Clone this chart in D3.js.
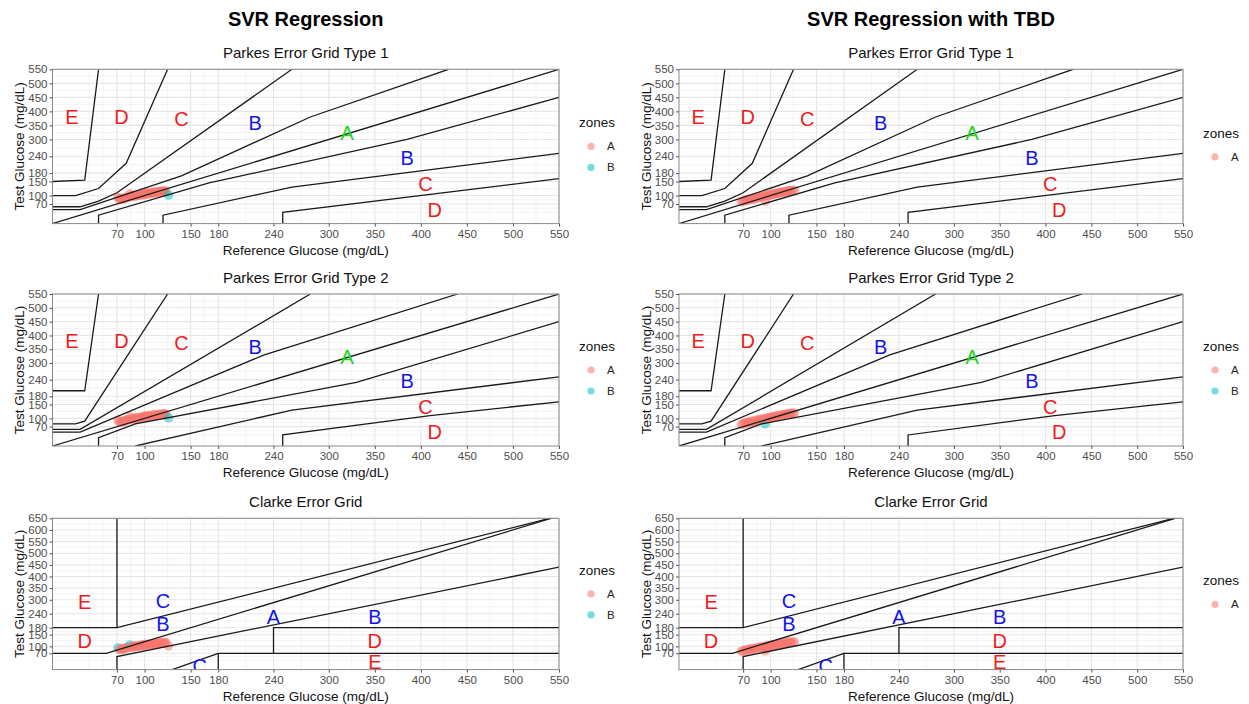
<!DOCTYPE html>
<html>
<head>
<meta charset="utf-8">
<script src="https://cdn.jsdelivr.net/npm/d3@7/dist/d3.min.js"></script>
<style>
  body { margin: 0; background: #fff; }
  text { font-family: "Liberation Sans", Arial, sans-serif; }
</style>
</head>
<body>
<script>
const W = 1249, H = 704;

// reference / test glucose pairs (left column)
const svrRef  = [71, 73, 74, 76, 77, 79, 80, 82, 84, 85, 86, 88, 89, 90, 92, 93, 95, 96, 98, 99,
                 100, 101, 102, 104, 105, 106, 108, 109, 110, 112, 113, 114, 116, 117, 118, 120, 121, 122, 123, 126];
const svrTest = [93, 86, 88, 90, 87, 93, 91, 95, 106, 96, 99, 97, 101, 99, 102, 100, 104, 101, 105, 103,
                 106, 109, 104, 108, 110, 106, 111, 108, 112, 110, 114, 111, 113, 116, 112, 115, 117, 113, 116, 102];

// right column (with TBD)
const tbdRef  = [68, 70, 72, 73, 75, 77, 78, 80, 82, 83, 85, 87, 88, 90, 91, 93, 94, 95, 97, 98,
                 100, 101, 103, 104, 106, 107, 109, 110, 112, 113, 115, 116, 118, 119, 121, 122, 124, 126];
const tbdTest = [78, 80, 84, 81, 86, 84, 89, 87, 91, 88, 94, 92, 96, 95, 98, 97, 80, 101, 99, 103,
                 102, 105, 104, 107, 106, 109, 108, 111, 110, 113, 112, 115, 114, 117, 116, 118, 117, 119];

const xTicks = [70, 100, 150, 180, 240, 300, 350, 400, 450, 500, 550];
const yTicksParkes = [70, 100, 150, 180, 240, 300, 350, 400, 450, 500, 550];
const yTicksClarke = [70, 100, 150, 180, 240, 300, 350, 400, 450, 500, 550, 600, 650];

// Parkes type 1 borders
const p1Identity = [[0, 0], [550, 550]];
const p1UpperAB = [[0, 50], [30, 50], [140, 170], [280, 380], [430, 550]];
const p1LowerAB = [[50, 0], [50, 30], [170, 145], [385, 300], [550, 450]];
const p1UpperBC = [[0, 60], [30, 60], [50, 80], [70, 110], [260, 550]];
const p1LowerBC = [[120, 0], [120, 30], [260, 130], [550, 250]];
const p1UpperCD = [[0, 100], [25, 100], [50, 125], [80, 215], [125, 550]];
const p1LowerCD = [[250, 0], [250, 40], [550, 160]];
const p1UpperDE = [[0, 150], [35, 155], [50, 550]];

// Parkes type 2 borders
const p2Identity = [[0, 0], [550, 550]];
const p2UpperAB = [[0, 50], [30, 50], [230, 330], [440, 550]];
const p2LowerAB = [[50, 0], [50, 30], [90, 80], [330, 230], [550, 450]];
const p2UpperBC = [[0, 60], [30, 60], [280, 550]];
const p2LowerBC = [[90, 0], [260, 130], [550, 250]];
const p2UpperCD = [[0, 80], [25, 80], [35, 90], [125, 550]];
const p2LowerCD = [[250, 0], [250, 40], [410, 110], [550, 160]];
const p2UpperDE = [[0, 200], [35, 200], [50, 550]];

// Clarke borders
const clarkeLines = [
  [[0, 180], [70, 180], [550, 660]],
  [[70, 180], [70, 650]],
  [[0, 70], [175 / 3, 70], [550, 660]],
  [[70, 0], [70, 56], [550, 440]],
  [[240, 70], [240, 180], [550, 180]],
  [[180, 0], [180, 70], [550, 70]],
  [[130, 0], [180, 70]]
];

const parkesLabels = ["A", "B", "B", "C", "C", "D", "D", "E"];
const parkesLabelX = [320, 220, 385, 140, 405, 415, 75, 21];
const parkesLabelY = [322, 360, 236, 372, 143, 50, 380, 380];

const clarkeLabels = ["E", "C", "B", "D", "A", "B", "D", "E", "C"];
const clarkeLabelX = [35, 120, 120, 35, 240, 350, 350, 350, 160];
const clarkeLabelY = [292, 296, 196, 124, 228, 228, 124, 34, 15];

const parkesColor = {A: "#22d422", B: "#1414e6", C: "#ee1c1c", D: "#ee1c1c", E: "#ee1c1c"};
const clarkeColor = {A: "#1414e6", B: "#1414e6", C: "#1414e6", D: "#ee1c1c", E: "#ee1c1c"};
const hue = ["#F8766D", "#00BFC4"];

function interp(pts, x, lower) {
  if (x < pts[0][0]) return lower ? -Infinity : pts[0][1];
  for (let i = 0; i < pts.length - 1; i++) {
    const a = pts[i], b = pts[i + 1];
    if (x >= a[0] && x <= b[0] && b[0] > a[0]) return a[1] + (x - a[0]) * (b[1] - a[1]) / (b[0] - a[0]);
  }
  return lower ? pts[pts.length - 1][1] : Infinity;
}

function parkesZone(g, r, t) {
  if (t <= interp(g.uAB, r, false) && t >= interp(g.lAB, r, true)) return "A";
  if (t <= interp(g.uBC, r, false) && t >= interp(g.lBC, r, true)) return "B";
  if (t <= interp(g.uCD, r, false) && t >= interp(g.lCD, r, true)) return "C";
  if (t <= interp(g.uDE, r, false)) return "D";
  return "E";
}

function clarkeZone(r, t) {
  if ((t <= 70 && r <= 70) || (t <= 1.2 * r && t >= 0.8 * r)) return "A";
  if ((r >= 180 && t <= 70) || (r <= 70 && t >= 180)) return "E";
  if ((r >= 70 && r <= 290 && t >= r + 110) || (r >= 130 && r <= 180 && t <= 1.4 * r - 182)) return "C";
  if ((r >= 240 && t >= 70 && t <= 180) || (r <= 175 / 3 && t <= 180 && t >= 70) ||
      (r >= 175 / 3 && r <= 70 && t >= 1.2 * r)) return "D";
  return "B";
}

const grid1 = {lines: [p1Identity, p1UpperAB, p1LowerAB, p1UpperBC, p1LowerBC, p1UpperCD, p1LowerCD, p1UpperDE],
  uAB: p1UpperAB, lAB: p1LowerAB, uBC: p1UpperBC, lBC: p1LowerBC, uCD: p1UpperCD, lCD: p1LowerCD, uDE: p1UpperDE};
const grid2 = {lines: [p2Identity, p2UpperAB, p2LowerAB, p2UpperBC, p2LowerBC, p2UpperCD, p2LowerCD, p2UpperDE],
  uAB: p2UpperAB, lAB: p2LowerAB, uBC: p2UpperBC, lBC: p2LowerBC, uCD: p2UpperCD, lCD: p2LowerCD, uDE: p2UpperDE};

function minorBreaks(b, max) {
  const ext = [b[0] - (b[1] - b[0])].concat(b);
  const out = [];
  for (let i = 0; i < ext.length - 1; i++) out.push(ext[i], (ext[i] + ext[i + 1]) / 2);
  return out.filter(v => v >= 0 && v <= max && !b.includes(v));
}

const svg = d3.select("body").append("svg")
  .attr("width", W).attr("height", H)
  .style("display", "block");

const cols = [
  {left: 52.5, right: 559, legX: 579, ref: svrRef, test: svrTest, title: "SVR Regression"},
  {left: 679, right: 1183, legX: 1203, ref: tbdRef, test: tbdTest, title: "SVR Regression with TBD"}
];
const rows = [
  {top: 69.3, bottom: 223.6, ymax: 550, kind: "p1", title: "Parkes Error Grid Type 1"},
  {top: 294, bottom: 446, ymax: 550, kind: "p2", title: "Parkes Error Grid Type 2"},
  {top: 518.3, bottom: 669.6, ymax: 650, kind: "clarke", title: "Clarke Error Grid"}
];

let clipId = 0;

function drawPanel(col, row) {
  const x = d3.scaleLinear().domain([0, 550]).range([col.left, col.right]);
  const y = d3.scaleLinear().domain([0, row.ymax]).range([row.bottom, row.top]);
  const yTicks = row.kind === "clarke" ? yTicksClarke : yTicksParkes;
  const g = svg.append("g");
  const midX = (col.left + col.right) / 2, midY = (row.top + row.bottom) / 2;

  g.append("text").attr("x", midX).attr("y", row.top - 11)
    .attr("text-anchor", "middle").style("font-size", "15px").attr("fill", "#111")
    .text(row.title);

  // grid
  g.selectAll(".vminor").data(minorBreaks(xTicks, 550)).enter().append("line")
    .attr("x1", d => x(d)).attr("x2", d => x(d)).attr("y1", row.top).attr("y2", row.bottom)
    .attr("stroke", "#ececec").attr("stroke-width", 0.6);
  g.selectAll(".hminor").data(minorBreaks(yTicks, row.ymax)).enter().append("line")
    .attr("y1", d => y(d)).attr("y2", d => y(d)).attr("x1", col.left).attr("x2", col.right)
    .attr("stroke", "#ececec").attr("stroke-width", 0.6);
  g.selectAll(".vmajor").data(xTicks).enter().append("line")
    .attr("x1", d => x(d)).attr("x2", d => x(d)).attr("y1", row.top).attr("y2", row.bottom)
    .attr("stroke", "#e6e6e6").attr("stroke-width", 1.1);
  g.selectAll(".hmajor").data(yTicks).enter().append("line")
    .attr("y1", d => y(d)).attr("y2", d => y(d)).attr("x1", col.left).attr("x2", col.right)
    .attr("stroke", "#e6e6e6").attr("stroke-width", 1.1);

  const id = "clip" + (clipId++);
  svg.append("clipPath").attr("id", id).append("rect")
    .attr("x", col.left).attr("y", row.top)
    .attr("width", col.right - col.left).attr("height", row.bottom - row.top);
  const inner = g.append("g").attr("clip-path", "url(#" + id + ")");

  // points
  const pts = col.ref.map((r, i) => {
    let z;
    if (row.kind === "clarke") z = clarkeZone(r, col.test[i]);
    else z = parkesZone(row.kind === "p1" ? grid1 : grid2, r, col.test[i]);
    return {r: r, t: col.test[i], z: z};
  });
  const levels = ["A", "B", "C", "D", "E"].filter(z => pts.some(p => p.z === z));
  const color = d3.scaleOrdinal().domain(levels).range(levels.length === 1 ? [hue[0]] : hue);

  inner.selectAll("circle").data(pts).enter().append("circle")
    .attr("cx", d => x(d.r)).attr("cy", d => y(d.t)).attr("r", 4.8)
    .attr("fill", d => color(d.z)).attr("fill-opacity", 0.5);

  // zone borders
  const line = d3.line().x(d => x(d[0])).y(d => y(d[1]));
  const borders = row.kind === "clarke" ? clarkeLines : (row.kind === "p1" ? grid1.lines : grid2.lines);
  inner.selectAll("path.border").data(borders).enter().append("path")
    .attr("class", "border").attr("d", line)
    .attr("fill", "none").attr("stroke", "#1a1a1a").attr("stroke-width", 1.3);

  // zone letters
  const labs = row.kind === "clarke" ? clarkeLabels : parkesLabels;
  const lx = row.kind === "clarke" ? clarkeLabelX : parkesLabelX;
  const ly = row.kind === "clarke" ? clarkeLabelY : parkesLabelY;
  const lc = row.kind === "clarke" ? clarkeColor : parkesColor;
  inner.selectAll("text.zone").data(labs).enter().append("text")
    .attr("class", "zone")
    .attr("x", (d, i) => x(lx[i])).attr("y", (d, i) => y(ly[i]))
    .attr("dy", "0.36em").attr("text-anchor", "middle")
    .style("font-size", "20px").attr("fill", d => lc[d])
    .text(d => d);

  g.append("rect").attr("x", col.left).attr("y", row.top)
    .attr("width", col.right - col.left).attr("height", row.bottom - row.top)
    .attr("fill", "none").attr("stroke", "#8a8a8a").attr("stroke-width", 1);

  // axes
  const xAxis = g.append("g").attr("transform", "translate(0," + row.bottom + ")")
    .call(d3.axisBottom(x).tickValues(xTicks).tickSize(3).tickSizeOuter(0).tickPadding(3));
  const yAxis = g.append("g").attr("transform", "translate(" + col.left + ",0)")
    .call(d3.axisLeft(y).tickValues(yTicks).tickSize(3).tickSizeOuter(0).tickPadding(2));
  [xAxis, yAxis].forEach(a => {
    a.select(".domain").remove();
    a.selectAll("line").attr("stroke", "#555");
    a.selectAll("text").attr("fill", "#4d4d4d").style("font-size", "11.5px").style("font-family", "Liberation Sans, Arial, sans-serif");
  });

  g.append("text").attr("x", midX).attr("y", row.bottom + 31)
    .attr("text-anchor", "middle").style("font-size", "13.5px").attr("fill", "#111")
    .text("Reference Glucose (mg/dL)");
  g.append("text").attr("transform", "translate(" + (col.left - 33) + "," + midY + ") rotate(-90)")
    .attr("text-anchor", "middle").attr("dy", "0.35em").style("font-size", "13.5px").attr("fill", "#111")
    .text("Test Glucose (mg/dL)");

  // legend
  const first = midY - (levels.length - 1) * 21 / 2 + 10.5;
  g.append("text").attr("x", col.legX).attr("y", first - 24).attr("dy", "0.35em")
    .style("font-size", "13.5px").attr("fill", "#111").text("zones");
  levels.forEach((z, i) => {
    g.append("circle").attr("cx", col.legX + 12).attr("cy", first + i * 21).attr("r", 3.6)
      .attr("fill", color(z)).attr("fill-opacity", 0.55);
    g.append("text").attr("x", col.legX + 28).attr("y", first + i * 21).attr("dy", "0.35em")
      .style("font-size", "11.5px").attr("fill", "#222").text(z);
  });
}

cols.forEach(col => {
  svg.append("text").attr("x", (col.left + col.right) / 2).attr("y", 26)
    .attr("text-anchor", "middle").style("font-size", "20px").style("font-weight", "bold")
    .attr("fill", "#000").text(col.title);
  rows.forEach(row => drawPanel(col, row));
});
</script>
</body>
</html>
